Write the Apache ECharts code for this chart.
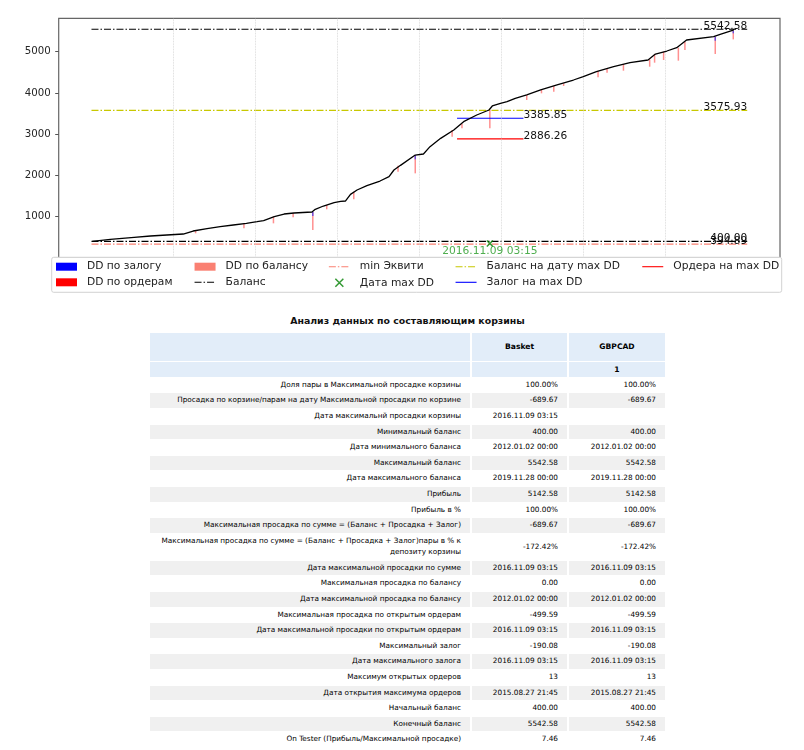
<!DOCTYPE html>
<html>
<head>
<meta charset="utf-8">
<title>Анализ данных по составляющим корзины</title>
<script src="https://cdn.jsdelivr.net/npm/echarts@6.0.0/dist/echarts.min.js"></script>
<style>
  html, body { margin: 0; padding: 0; background: #fff; }
  #chart { position: absolute; left: 0; top: 0; width: 804px; height: 300px; }
  #title {
    position: absolute; left: 150px; top: 315px; width: 515px;
    text-align: center; font: bold 9.4px 'DejaVu Sans'; line-height: 12px; color: #111;
  }
  #stats {
    position: absolute; left: 148px; top: 332.3px; width: 519px;
    border-collapse: separate; border-spacing: 2px 1px; table-layout: fixed;
    font-family: 'DejaVu Sans'; font-size: 7.3px; color: #000;
  }
  #stats td, #stats th {
    padding: 0 9px; text-align: right; height: 14.6px; line-height: 14.6px;
    white-space: pre-line; overflow: hidden; font-weight: normal;
  }
  #stats th { text-align: center; font-weight: bold; font-size: 7.6px; }
  #stats tr.h1 td, #stats tr.h1 th { height: 27.4px; background: #e2edf9; }
  #stats tr.h2 td, #stats tr.h2 th { height: 15.2px; line-height: 15.2px; background: #e2edf9; }
  #stats tr.odd td { background: #f0f0f0; }
  #stats td.tall { line-height: 10.5px; padding-top: 2.5px; padding-bottom: 2.5px; }
</style>
</head>
<body>
<div id="chart"></div>
<div id="title">Анализ данных по составляющим корзины</div>
<table id="stats"></table>
<script>
// x values are in years on the tester timeline
const balanceCurve = [
  [2012.01, 400], [2012.23, 450], [2012.52, 499], [2012.72, 531], [2012.92, 555],
  [2013.12, 579], [2013.24, 652], [2013.41, 709], [2013.57, 757], [2013.73, 798],
  [2013.89, 838], [2014.02, 878], [2014.10, 903], [2014.23, 1000], [2014.35, 1064],
  [2014.47, 1089], [2014.69, 1113], [2014.73, 1178], [2014.83, 1258], [2014.96, 1339],
  [2015.04, 1371], [2015.10, 1380], [2015.16, 1541], [2015.24, 1646], [2015.36, 1751],
  [2015.52, 1864], [2015.63, 1969], [2015.69, 2131], [2015.77, 2244], [2015.95, 2494],
  [2016.05, 2519], [2016.13, 2697], [2016.26, 2899], [2016.42, 3101], [2016.54, 3303],
  [2016.70, 3465], [2016.85, 3586], [2016.89, 3683], [2016.99, 3748], [2017.07, 3788],
  [2017.17, 3869], [2017.31, 3950], [2017.48, 4071], [2017.68, 4192], [2017.88, 4313],
  [2018.00, 4394], [2018.16, 4515], [2018.37, 4636], [2018.57, 4733], [2018.79, 4798],
  [2018.88, 4943], [2019.02, 5016], [2019.14, 5097], [2019.26, 5283], [2019.59, 5364],
  [2019.67, 5420], [2019.83, 5525], [2019.84, 5542.58]
];

// drawdown spikes: [x, top, bottom]
const ddOrders = [
  [2013.27, 652, 596], [2013.86, 822, 717], [2014.22, 1000, 838], [2014.46, 1080, 984],
  [2014.70, 1113, 676], [2014.87, 1284, 1178], [2015.20, 1606, 1420], [2015.74, 2236, 2091],
  [2015.95, 2494, 2050], [2016.40, 3101, 2939], [2016.52, 3246, 3141], [2016.86, 3586, 3141],
  [2017.31, 3949, 3828], [2017.49, 4087, 3990], [2017.64, 4167, 4030], [2017.76, 4232, 4167],
  [2018.18, 4531, 4378], [2018.29, 4596, 4491], [2018.49, 4701, 4539], [2018.81, 4814, 4636],
  [2018.87, 4935, 4733], [2018.98, 5000, 4798], [2019.16, 5097, 4782], [2019.24, 5242, 5040],
  [2019.61, 5363, 4943], [2019.83, 5508, 5298]
];
const ddMargin = [
  [2014.70, 1113, 1016], [2015.95, 2494, 2389], [2019.61, 5363, 5266], [2019.83, 5508, 5444]
];
const ddBalance = [];

const xStart = 2012.0;
const xEnd = 2020.0;
const maxBalance = 5542.58;
const minBalance = 400.00;
const minEquity = 394.89;
const minEquityLevel = 335;
const balanceAtMaxDD = 3575.93;
const marginAtMaxDD = 3385.85;
const ordersAtMaxDD = 2886.26;
const maxDDSpan = [2016.46, 2017.27];
const maxDDPoint = [2016.86, 350];
const maxDDDate = '2016.11.09 03:15';
const yearGrid = [2013, 2014, 2015, 2016, 2017, 2018, 2019];

// table
const pairNames = ['Basket', 'GBPCAD'];
const pairCounts = ['', '1'];
const rowLabels = [
  'Доля пары в Максимальной просадке корзины',
  'Просадка по корзине/парам на дату Максимальной просадки по корзине',
  'Дата максимальнй просадки корзины',
  'Минимальный баланс',
  'Дата минимального баланса',
  'Максимальный баланс',
  'Дата максимального баланса',
  'Прибыль',
  'Прибыль в %',
  'Максимальная просадка по сумме = (Баланс + Просадка + Залог)',
  'Максимальная просадка по сумме = (Баланс + Просадка + Залог)пары в % к\nдепозиту корзины',
  'Дата максимальной просадки по сумме',
  'Максимальная просадка по балансу',
  'Дата максимальной просадка по балансу',
  'Максимальная просадка по открытым ордерам',
  'Дата максимальной просадки по открытым ордерам',
  'Максимальный залог',
  'Дата максимального залога',
  'Максимум открытых ордеров',
  'Дата открытия максимума ордеров',
  'Начальный баланс',
  'Конечный баланс',
  'On Tester (Прибыль/Максимальной просадке)'
];
const basketValues = [
  '100.00%', '-689.67', '2016.11.09 03:15', '400.00', '2012.01.02 00:00', '5542.58',
  '2019.11.28 00:00', '5142.58', '100.00%', '-689.67', '-172.42%', '2016.11.09 03:15',
  '0.00', '2012.01.02 00:00', '-499.59', '2016.11.09 03:15', '-190.08', '2016.11.09 03:15',
  '13', '2015.08.27 21:45', '400.00', '5542.58', '7.46'
];
const gbpcadValues = [
  '100.00%', '-689.67', '', '400.00', '2012.01.02 00:00', '5542.58',
  '2019.11.28 00:00', '5142.58', '100.00%', '-689.67', '-172.42%', '2016.11.09 03:15',
  '0.00', '2012.01.02 00:00', '-499.59', '2016.11.09 03:15', '-190.08', '2016.11.09 03:15',
  '13', '2015.08.27 21:45', '400.00', '5542.58', '7.46'
];

const FONT = 'DejaVu Sans';
const dashDot = [7, 2, 1.5, 2];

function levelLine(name, level, x0, x1, color, dash, text, align) {
  return {
    name: name,
    type: 'line',
    data: [[x0, level], [x1, level]],
    symbol: 'none',
    silent: true,
    z: 4,
    lineStyle: { color: color, width: 1.1, type: dash },
    itemStyle: { color: color },
    endLabel: {
      show: true,
      formatter: text,
      color: '#111',
      fontFamily: FONT,
      fontSize: 10.6,
      align: align,
      verticalAlign: 'bottom',
      distance: 0,
      offset: [0, 2.5]
    }
  };
}

function spikeSeries(name, data, legendColor, drawColor, z) {
  return {
    name: name,
    type: 'custom',
    z: z,
    silent: true,
    itemStyle: { color: legendColor },
    encode: { x: 0, y: [1, 2] },
    data: data,
    renderItem: function (params, api) {
      const top = api.coord([api.value(0), api.value(1)]);
      const bottom = api.coord([api.value(0), api.value(2)]);
      return {
        type: 'line',
        shape: { x1: top[0], y1: top[1], x2: bottom[0], y2: bottom[1] },
        style: { stroke: drawColor, lineWidth: 1.5 }
      };
    }
  };
}

// legend entry for a line series: just the stroke, no marker
function lineEntry(name, dash) {
  return { name: name, itemStyle: { opacity: 0 }, lineStyle: { type: dash, width: 1.1 } };
}

const chart = echarts.init(document.getElementById('chart'), null, { renderer: 'canvas' });

const legendBase = {
  orient: 'vertical',
  itemWidth: 21,
  itemHeight: 8,
  itemGap: 3.6,
  padding: 0,
  top: 260.7,
  z: 10,
  selectedMode: false,
  textStyle: { fontFamily: FONT, fontSize: 10.7, color: '#222', lineHeight: 12, padding: [0, 0, 0, 5] }
};
const xIcon = 'path://M0,0L10,10M10,0L0,10';

const option = {
  animation: false,
  backgroundColor: '#fff',
  grid: {
    left: 58.7, right: 24, top: 18.3, bottom: 42.1,
    show: true, borderColor: '#666', borderWidth: 1.2, backgroundColor: 'transparent'
  },
  xAxis: {
    type: 'value', min: 2011.6, max: 2020.4,
    axisLine: { show: false }, axisTick: { show: false },
    axisLabel: { show: false }, splitLine: { show: false }
  },
  yAxis: {
    type: 'value', min: 0, max: 5809, interval: 1000,
    axisLine: { show: false },
    axisTick: { show: true, length: 3.5, lineStyle: { color: '#555' } },
    axisLabel: {
      showMinLabel: false, showMaxLabel: false, margin: 8,
      color: '#262626', fontFamily: FONT, fontSize: 10.2,
      formatter: function (v) { return String(v); }
    },
    splitLine: { show: false }
  },
  legend: [
    Object.assign({}, legendBase, { left: 56, data: [
      { name: 'DD по залогу', icon: 'rect' }, { name: 'DD по ордерам', icon: 'rect' }] }),
    Object.assign({}, legendBase, { left: 194, data: [
      { name: 'DD по балансу', icon: 'rect' }, lineEntry('Баланс', dashDot)] }),
    Object.assign({}, legendBase, { left: 328.3, data: [
      lineEntry('min Эквити', dashDot),
      { name: 'Дата max DD', icon: xIcon, itemStyle: { color: 'none', borderColor: '#008000', borderWidth: 1.5 } }] }),
    Object.assign({}, legendBase, { left: 455, data: [
      lineEntry('Баланс на дату max DD', dashDot), lineEntry('Залог на max DD', 'solid')] }),
    Object.assign({}, legendBase, { left: 641.7, data: [lineEntry('Ордера на max DD', 'solid')] })
  ],
  graphic: [{
    type: 'rect', z: 9,
    shape: { x: 51.7, y: 257.3, width: 730, height: 35, r: 2 },
    style: { fill: '#fff', stroke: '#d2d2d2', lineWidth: 1 }
  }],
  series: [
    {
      name: 'grid', type: 'line', data: [], z: 1, silent: true,
      markLine: {
        silent: true, symbol: ['none', 'none'], label: { show: false },
        lineStyle: { color: '#d0d0d0', type: 'dotted', width: 0.8 },
        data: yearGrid.map(function (v) { return { xAxis: v }; })
      }
    },
    spikeSeries('DD по ордерам', ddOrders, '#ff0000', 'rgba(255,70,70,0.6)', 2),
    spikeSeries('DD по залогу', ddMargin, '#0000ff', 'rgba(40,40,255,0.65)', 3),
    spikeSeries('DD по балансу', ddBalance, '#fa8072', 'rgba(250,128,114,0.6)', 2),
    {
      name: 'Эквити', type: 'line', data: balanceCurve, symbol: 'none', z: 5, silent: true,
      lineStyle: { color: '#000', width: 1.3 }
    },
    levelLine('Баланс', maxBalance, xStart, xEnd, '#000', dashDot, maxBalance.toFixed(2), 'right'),
    levelLine('Баланс', minBalance, xStart, xEnd, '#000', dashDot, minBalance.toFixed(2), 'right'),
    levelLine('min Эквити', minEquityLevel, xStart, xEnd, '#fa8072', dashDot, minEquity.toFixed(2), 'right'),
    levelLine('Баланс на дату max DD', balanceAtMaxDD, xStart, xEnd, '#c8c800', dashDot, balanceAtMaxDD.toFixed(2), 'right'),
    levelLine('Залог на max DD', marginAtMaxDD, maxDDSpan[0], maxDDSpan[1], '#0000ff', 'solid', marginAtMaxDD.toFixed(2), 'left'),
    levelLine('Ордера на max DD', ordersAtMaxDD, maxDDSpan[0], maxDDSpan[1], '#ff0000', 'solid', ordersAtMaxDD.toFixed(2), 'left'),
    {
      name: 'Дата max DD', type: 'scatter', z: 6, silent: true,
      data: [maxDDPoint],
      symbol: xIcon, symbolSize: 6,
      itemStyle: { color: 'none', borderColor: '#008000', borderWidth: 1.5 },
      label: {
        show: true, position: 'bottom', distance: 0, offset: [0, -3], formatter: maxDDDate,
        color: '#229a22', fontFamily: FONT, fontSize: 10.7
      }
    }
  ]
};
chart.setOption(option);

// build the statistics table
const tbl = document.getElementById('stats');
let html = '<colgroup><col style="width:320px"><col style="width:95px"><col style="width:96px"></colgroup>';
html += '<tr class="h1"><td></td><th>' + pairNames[0] + '</th><th>' + pairNames[1] + '</th></tr>';
html += '<tr class="h2"><td></td><th>' + pairCounts[0] + '</th><th>' + pairCounts[1] + '</th></tr>';
rowLabels.forEach(function (label, i) {
  const tall = label.indexOf('\n') >= 0 ? ' class="tall"' : '';
  html += '<tr class="' + (i % 2 ? 'odd' : 'even') + '"><td' + tall + '>' + label + '</td><td>' +
    basketValues[i] + '</td><td>' + gbpcadValues[i] + '</td></tr>';
});
tbl.innerHTML = html;
</script>
</body>
</html>
